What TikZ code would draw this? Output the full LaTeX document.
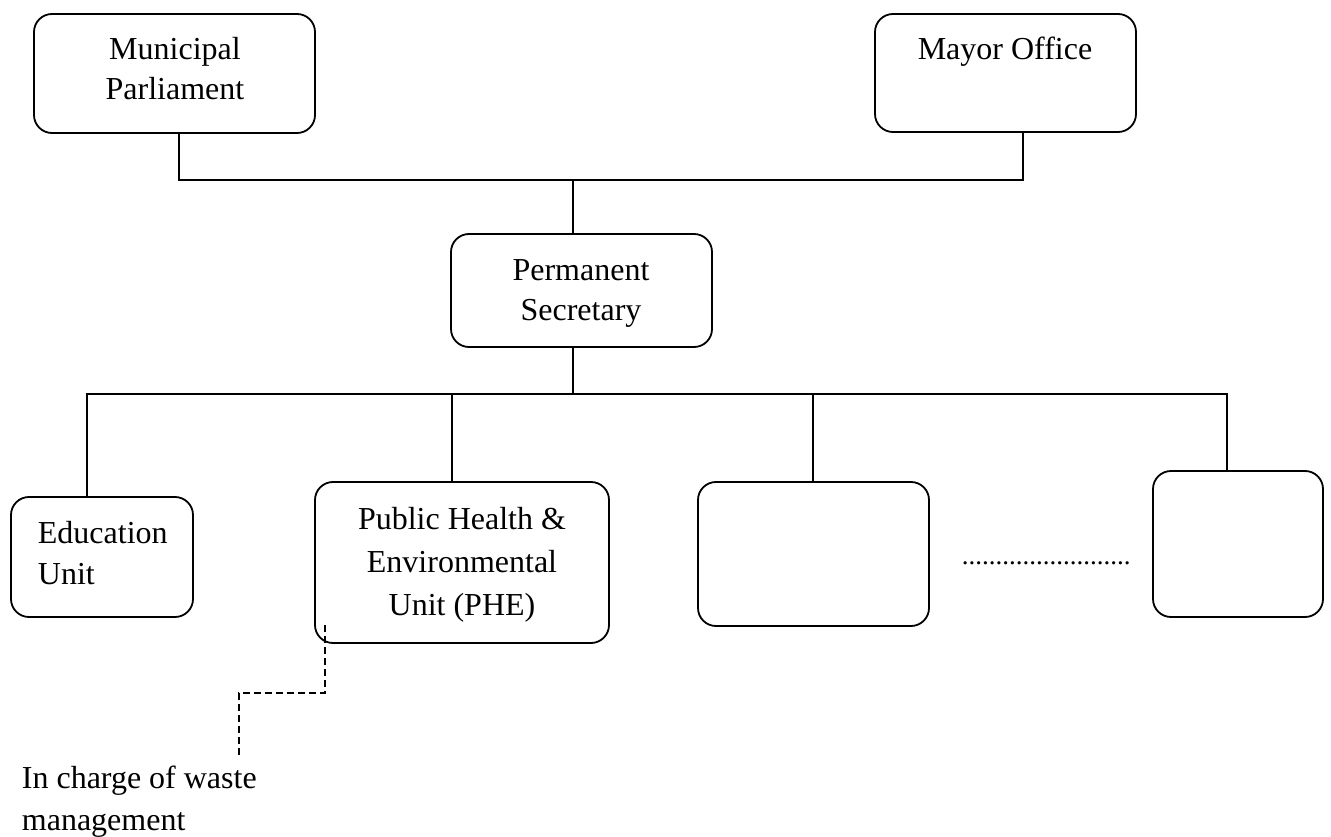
\documentclass[tikz,border=0pt]{standalone}
\usepackage{fontspec}
\setmainfont{Liberation Serif}
\begin{document}
\begin{tikzpicture}[x=1pt,y=-1pt,
  line width=1.8pt,
  box/.style={draw, rounded corners=18pt, inner sep=0pt, outer sep=0pt},
  lbl/.style={anchor=base, inner sep=0pt, font=\fontsize{32}{40}\selectfont},
  lblw/.style={anchor=base west, inner sep=0pt, font=\fontsize{32}{40}\selectfont},
  link/.style={draw, line width=1.8pt},
  dashlink/.style={draw, line width=1.8pt, dash pattern=on 7pt off 4pt}]
\useasboundingbox (0,0) rectangle (1331,837);

% boxes
\node[box, minimum width=281pt, minimum height=119pt] (parl) at (174.5,73.5) {};
\node[box, minimum width=261pt, minimum height=118pt] (mayor) at (1005.5,73) {};
\node[box, minimum width=261pt, minimum height=113pt] (sec) at (581.5,290.5) {};
\node[box, minimum width=182pt, minimum height=120pt] (edu) at (102,557) {};
\node[box, minimum width=294pt, minimum height=161pt] (phe) at (462,562.5) {};
\node[box, minimum width=231pt, minimum height=144pt] (b3) at (813.5,554) {};
\node[box, minimum width=170pt, minimum height=146pt] (b4) at (1238,544) {};

% labels
\node[lbl] (parl1) at (175,60) {Municipal};
\node[lbl] (parl2) at (175,100) {Parliament};
\node[lbl] (mayor1) at (1005,60) {Mayor Office};
\node[lbl] (sec1) at (581,280) {Permanent};
\node[lbl] (sec2) at (581,320) {Secretary};
\node[lblw] (edu1) at (37,543) {Education};
\node[lblw] (edu2) at (37,584) {Unit};
\node[lbl] (phe1) at (462,529) {Public Health \&};
\node[lbl] (phe2) at (462,572) {Environmental};
\node[lbl] (phe3) at (462,615) {Unit (PHE)};
\node[anchor=base west, inner sep=0pt, font=\fontsize{27}{32}\selectfont] (dots) at (961,564) {.........................};
\node[lblw] (waste1) at (21,788) {In charge of waste};
\node[lblw] (waste2) at (21,830) {management};

% junctions
\coordinate (jtop) at (573,180);
\coordinate (jbot) at (573,394);
\coordinate (wturn) at (239,693);
\coordinate (wend) at (239,756);

% upper tree
\draw[link] ([xshift=4.5pt]parl.south) |- (jtop);
\draw[link] ([xshift=17.5pt]mayor.south) |- (jtop);
\draw[link] (jtop) -- (jtop |- sec.north);

% lower tree
\draw[link] (sec.south -| jbot) -- (jbot);
\draw[link] ([xshift=-15pt]edu.north) |- (jbot) -| ([xshift=-11pt]b4.north);
\draw[link] ([xshift=-10pt]phe.north) -- ([xshift=-10pt]phe.north |- jbot);
\draw[link] ([xshift=-0.5pt]b3.north) -- ([xshift=-0.5pt]b3.north |- jbot);

% note on waste management
\draw[dashlink] ([shift={(10pt,18pt)}]phe.south west) |- (wturn) -- (wend);
\end{tikzpicture}
\end{document}
